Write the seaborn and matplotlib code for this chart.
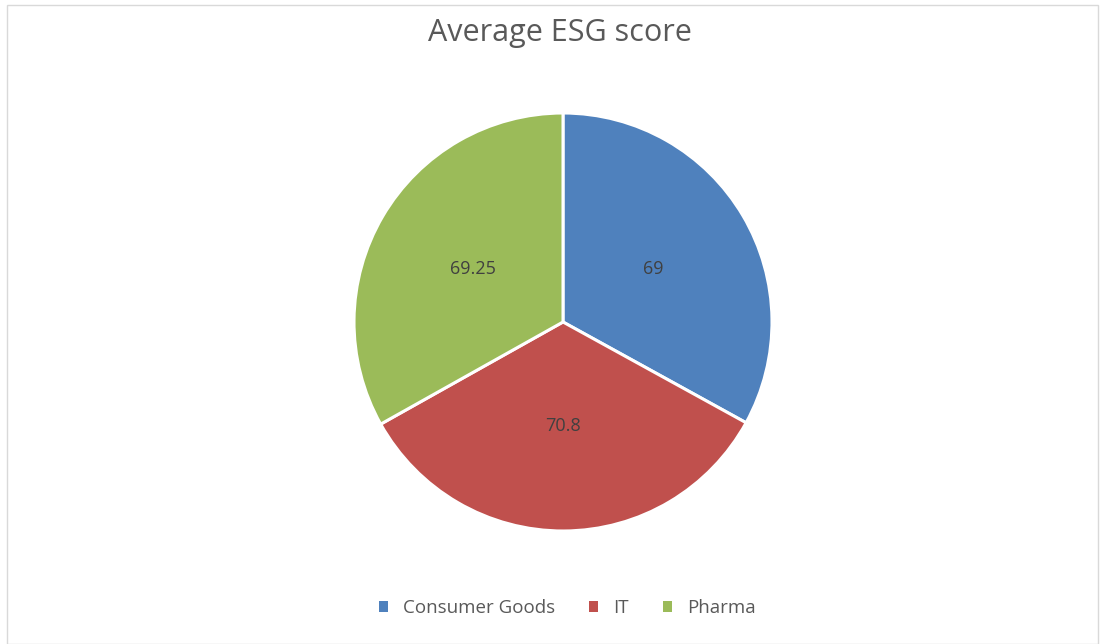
import matplotlib
matplotlib.use("Agg")
import matplotlib.pyplot as plt
from matplotlib.patches import Rectangle, Patch
import seaborn as sns

# Average ESG score per sector
sectors = ["Consumer Goods", "IT", "Pharma"]
scores = [69, 70.8, 69.25]
score_labels = ["69", "70.8", "69.25"]
colors = ["#4F81BD", "#C0504D", "#9BBB59"]

sns.set_theme(style="white")
plt.rcParams["font.family"] = ["Open Sans", "DejaVu Sans"]

W, H = 1103, 644
fig = plt.figure(figsize=(W / 100, H / 100), dpi=100)
fig.patch.set_facecolor("white")

# light chart frame
fig.patches.append(Rectangle((7 / W, 0), (1098 - 7) / W, (H - 5) / H,
                             transform=fig.transFigure, fill=False,
                             edgecolor="#D9D9D9", linewidth=1))

cx, cy, r = 563, 322, 209
ax = fig.add_axes([(cx - r) / W, (H - cy - r) / H, 2 * r / W, 2 * r / H])

wedges, texts = ax.pie(scores, labels=score_labels, colors=colors,
                       startangle=90, counterclock=False, labeldistance=0.5,
                       wedgeprops=dict(edgecolor="white", linewidth=2.2),
                       textprops=dict(color="#404040", fontsize=13))
for t in texts:
    t.set_horizontalalignment("center")
    t.set_verticalalignment("center")
ax.set_xlim(-1, 1)
ax.set_ylim(-1, 1)
ax.set_aspect("equal")
ax.axis("off")

fig.text(560 / W, 1 - 33 / H, "Average ESG score", ha="center", va="center",
         fontsize=22, color="#595959")

# legend swatches without the white wedge outline
handles = [Patch(facecolor=w.get_facecolor(), edgecolor="none") for w in wedges]
fig.legend(handles, sectors, loc="center", bbox_to_anchor=(567 / W, 1 - 608 / H),
           ncol=3, frameon=False, handlelength=0.5, handleheight=0.5,
           handletextpad=0.8, columnspacing=1.8,
           prop=dict(size=13.5), labelcolor="#595959")

fig.savefig("out.png", dpi=100, facecolor="white")
